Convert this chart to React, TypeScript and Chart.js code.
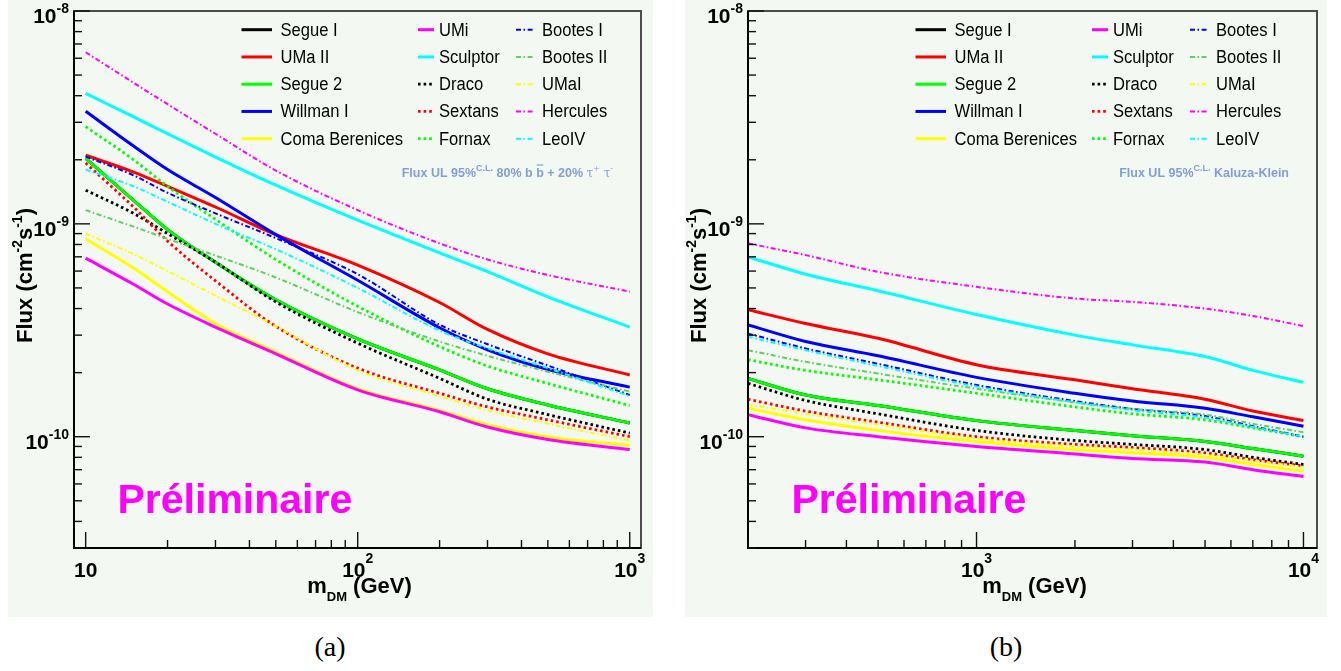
import React, { useEffect, useRef } from "react";
import { Chart, registerables } from "chart.js";

Chart.register(...registerables);

const FONT = "'Liberation Sans', Arial, Helvetica, sans-serif";
const BG = "#f4f8f3";

// ---------------- series (legend order, column-major) ----------------
const seriesNames = [
  "Segue I", "UMa II", "Segue 2", "Willman I", "Coma Berenices",
  "UMi", "Sculptor", "Draco", "Sextans", "Fornax",
  "Bootes I", "Bootes II", "UMaI", "Hercules", "LeoIV",
];
const seriesColors = [
  "#000000", "#ff0000", "#00ff00", "#0000ff", "#ffff00",
  "#ff00ff", "#00ffff", "#000000", "#ff0000", "#00ff00",
  "#0000ff", "#5fcf5f", "#ffff00", "#ff00ff", "#00ffff",
];
const seriesStyles = [
  "solid", "solid", "solid", "solid", "solid",
  "solid", "solid", "dot", "dot", "dot",
  "dashdot", "dashdot", "dashdot", "dashdot", "dashdot",
];

// ---------------- panel (a): 80% b bbar + 20% tau tau ----------------
const massA = [10, 15, 20, 30, 50, 100, 200, 300, 500, 1000];
const aSegueI = [2.03e-9, 1.29e-9, 9.4e-10, 6.6e-10, 4.4e-10, 2.88e-10, 2.06e-10, 1.68e-10, 1.41e-10, 1.16e-10];
const aUMaII = [2.1e-9, 1.75e-9, 1.5e-9, 1.2e-9, 8.9e-10, 6.4e-10, 4.27e-10, 3.19e-10, 2.45e-10, 1.95e-10];
const aSegue2 = [2.03e-9, 1.29e-9, 9.4e-10, 6.6e-10, 4.4e-10, 2.88e-10, 2.06e-10, 1.68e-10, 1.41e-10, 1.16e-10];
const aWillmanI = [3.38e-9, 2.32e-9, 1.8e-9, 1.33e-9, 8.9e-10, 5.43e-10, 3.25e-10, 2.56e-10, 2.07e-10, 1.71e-10];
const aComaBerenices = [8.5e-10, 6.2e-10, 4.8e-10, 3.4e-10, 2.5e-10, 1.68e-10, 1.33e-10, 1.14e-10, 1.0e-10, 9.1e-11];
const aUMi = [6.9e-10, 5.2e-10, 4.2e-10, 3.27e-10, 2.45e-10, 1.66e-10, 1.31e-10, 1.11e-10, 9.7e-11, 8.7e-11];
const aSculptor = [4.1e-9, 3.18e-9, 2.65e-9, 2.06e-9, 1.52e-9, 1.04e-9, 7.3e-10, 5.96e-10, 4.54e-10, 3.27e-10];
const aDraco = [1.44e-9, 1.12e-9, 9.0e-10, 6.6e-10, 4.3e-10, 2.75e-10, 1.88e-10, 1.5e-10, 1.27e-10, 1.04e-10];
const aSextans = [1.93e-9, 1.2e-9, 8.3e-10, 5.4e-10, 3.3e-10, 2.1e-10, 1.6e-10, 1.38e-10, 1.2e-10, 1.0e-10];
const aFornax = [2.86e-9, 2.0e-9, 1.5e-9, 1.05e-9, 6.8e-10, 4.1e-10, 2.65e-10, 2.15e-10, 1.78e-10, 1.4e-10];
const aBootesI = [2.07e-9, 1.69e-9, 1.4e-9, 1.12e-9, 8.57e-10, 5.8e-10, 3.36e-10, 2.72e-10, 2.16e-10, 1.57e-10];
const aBootesII = [1.16e-9, 9.7e-10, 8.5e-10, 7.1e-10, 5.6e-10, 3.85e-10, 2.8e-10, 2.4e-10, 2.02e-10, 1.63e-10];
const aUMaI = [9.0e-10, 7.2e-10, 6.0e-10, 4.6e-10, 3.3e-10, 2.05e-10, 1.55e-10, 1.33e-10, 1.15e-10, 9.6e-11];
const aHercules = [6.4e-9, 4.6e-9, 3.65e-9, 2.65e-9, 1.78e-9, 1.16e-9, 8.1e-10, 6.8e-10, 5.75e-10, 4.8e-10];
const aLeoIV = [1.8e-9, 1.5e-9, 1.27e-9, 1.0e-9, 7.6e-10, 5.0e-10, 3.15e-10, 2.6e-10, 2.1e-10, 1.55e-10];

// ---------------- panel (b): Kaluza-Klein ----------------
const massB = [200, 300, 500, 1000, 2000, 3000, 5000, 7000, 10000];
const bSegueI = [1.88e-10, 1.57e-10, 1.4e-10, 1.19e-10, 1.07e-10, 1.01e-10, 9.5e-11, 8.8e-11, 8.1e-11];
const bUMaII = [3.95e-10, 3.4e-10, 2.9e-10, 2.18e-10, 1.85e-10, 1.68e-10, 1.5e-10, 1.32e-10, 1.19e-10];
const bSegue2 = [1.88e-10, 1.57e-10, 1.4e-10, 1.19e-10, 1.07e-10, 1.01e-10, 9.5e-11, 8.8e-11, 8.1e-11];
const bWillmanI = [3.35e-10, 2.8e-10, 2.4e-10, 1.9e-10, 1.6e-10, 1.47e-10, 1.36e-10, 1.24e-10, 1.12e-10];
const bComaBerenices = [1.36e-10, 1.2e-10, 1.07e-10, 9.5e-11, 8.7e-11, 8.4e-11, 8.0e-11, 7.4e-11, 6.9e-11];
const bUMi = [1.27e-10, 1.1e-10, 1.0e-10, 9.0e-11, 8.3e-11, 7.9e-11, 7.6e-11, 7.0e-11, 6.5e-11];
const bSculptor = [7.0e-10, 5.8e-10, 4.85e-10, 3.75e-10, 3.0e-10, 2.7e-10, 2.38e-10, 2.05e-10, 1.8e-10];
const bDraco = [1.78e-10, 1.48e-10, 1.28e-10, 1.07e-10, 9.6e-11, 9.2e-11, 8.7e-11, 8.0e-11, 7.4e-11];
const bSextans = [1.5e-10, 1.32e-10, 1.17e-10, 1.0e-10, 9.2e-11, 8.9e-11, 8.4e-11, 7.8e-11, 7.3e-11];
const bFornax = [2.3e-10, 2.05e-10, 1.85e-10, 1.6e-10, 1.38e-10, 1.28e-10, 1.2e-10, 1.1e-10, 1.0e-10];
const bBootesI = [3.05e-10, 2.6e-10, 2.2e-10, 1.75e-10, 1.47e-10, 1.35e-10, 1.25e-10, 1.12e-10, 1.0e-10];
const bBootesII = [2.55e-10, 2.25e-10, 1.98e-10, 1.68e-10, 1.45e-10, 1.35e-10, 1.27e-10, 1.15e-10, 1.05e-10];
const bUMaI = [1.42e-10, 1.28e-10, 1.14e-10, 9.8e-11, 9.0e-11, 8.7e-11, 8.2e-11, 7.7e-11, 7.2e-11];
const bHercules = [8.1e-10, 7.13e-10, 5.95e-10, 5.06e-10, 4.46e-10, 4.3e-10, 4.0e-10, 3.69e-10, 3.31e-10];
const bLeoIV = [2.95e-10, 2.55e-10, 2.15e-10, 1.72e-10, 1.45e-10, 1.33e-10, 1.23e-10, 1.11e-10, 1.0e-10];

// ---------------- axes / ticks ----------------
const yMin = 3e-11;
const yMax = 1e-8;
const yTickValues = [1e-8, 1e-9, 1e-10];
const yTickSups = ["-8", "-9", "-10"];
const xRangeA = [9.06, 1100];
const xTickValuesA = [10, 100, 1000];
const xTickSupsA = ["", "2", "3"];
const xRangeB = [200, 11000];
const xTickValuesB = [1000, 10000];
const xTickSupsB = ["3", "4"];

const valuesA = [aSegueI, aUMaII, aSegue2, aWillmanI, aComaBerenices, aUMi, aSculptor, aDraco, aSextans, aFornax, aBootesI, aBootesII, aUMaI, aHercules, aLeoIV];
const valuesB = [bSegueI, bUMaII, bSegue2, bWillmanI, bComaBerenices, bUMi, bSculptor, bDraco, bSextans, bFornax, bBootesI, bBootesII, bUMaI, bHercules, bLeoIV];

type Part = { t: string; f: string; dy?: number; over?: boolean };

function partsWidth(ctx: CanvasRenderingContext2D, parts: Part[]) {
  let w = 0;
  for (const p of parts) {
    ctx.font = p.f;
    w += ctx.measureText(p.t).width;
  }
  return w;
}

function drawParts(ctx: CanvasRenderingContext2D, parts: Part[], x: number, y: number) {
  let cx = x;
  for (const p of parts) {
    ctx.font = p.f;
    ctx.fillText(p.t, cx, y + (p.dy || 0));
    const w = ctx.measureText(p.t).width;
    if (p.over) {
      ctx.save();
      ctx.strokeStyle = ctx.fillStyle as string;
      ctx.lineWidth = 1.2;
      ctx.beginPath();
      ctx.moveTo(cx + 0.5, y - 11.5);
      ctx.lineTo(cx + w - 0.5, y - 11.5);
      ctx.stroke();
      ctx.restore();
    }
    cx += w;
  }
}

function dashFor(style: string) {
  if (style === "dot") return [2.6, 3];
  if (style === "dashdot") return [5, 2.5, 1.6, 2.5];
  return [];
}
function widthFor(style: string) {
  if (style === "dot") return 2.8;
  if (style === "dashdot") return 2;
  return 3;
}

function makeDatasets(mass: number[], values: number[][]) {
  return values.map((vals, i) => ({
    label: seriesNames[i],
    data: mass.map((m, j) => ({ x: m, y: vals[j] })),
    borderColor: seriesColors[i],
    backgroundColor: seriesColors[i],
    borderWidth: widthFor(seriesStyles[i]),
    borderDash: dashFor(seriesStyles[i]),
    pointRadius: 0,
    fill: false,
    cubicInterpolationMode: "monotone",
    order: values.length - i,
  }));
}

function rootPlugin(spec: any) {
  return {
    id: "rootFrame",
    afterDraw(chart: any) {
      const ctx: CanvasRenderingContext2D = chart.ctx;
      const ca = chart.chartArea;
      const xs = chart.scales.x;
      const ys = chart.scales.y;
      ctx.save();
      // frame
      ctx.strokeStyle = "#4d4d4d";
      ctx.lineWidth = 2;
      ctx.strokeRect(ca.left, ca.top, ca.right - ca.left, ca.bottom - ca.top);
      ctx.strokeStyle = "#000";
      ctx.lineWidth = 2;
      ctx.beginPath();
      ctx.moveTo(ca.left, ca.top);
      ctx.lineTo(ca.left, ca.bottom);
      ctx.lineTo(ca.right, ca.bottom);
      ctx.stroke();

      // y ticks
      ctx.lineWidth = 1.4;
      ctx.strokeStyle = "#111";
      for (let e = -11; e <= -8; e++) {
        for (let k = 1; k <= 9; k++) {
          const v = k * Math.pow(10, e);
          if (v < yMin * 0.999 || v > yMax * 1.001) continue;
          const py = ys.getPixelForValue(v);
          const len = k === 1 ? 16 : 8;
          ctx.beginPath();
          ctx.moveTo(ca.left, py);
          ctx.lineTo(ca.left + len, py);
          ctx.stroke();
        }
      }
      // x ticks
      const [xmin, xmax] = spec.xRange;
      for (let e = 0; e <= 4; e++) {
        for (let k = 1; k <= 9; k++) {
          const v = k * Math.pow(10, e);
          if (v < xmin * 0.999 || v > xmax * 1.001) continue;
          const px = xs.getPixelForValue(v);
          const len = k === 1 ? 16 : 8;
          ctx.beginPath();
          ctx.moveTo(px, ca.bottom);
          ctx.lineTo(px, ca.bottom - len);
          ctx.stroke();
        }
      }

      ctx.fillStyle = "#000";
      ctx.textBaseline = "alphabetic";
      ctx.textAlign = "left";
      const big = `bold 21px ${FONT}`;
      const sup = `bold 14px ${FONT}`;
      // y tick labels
      yTickValues.forEach((v, i) => {
        const py = ys.getPixelForValue(v);
        ctx.font = sup;
        const ws = ctx.measureText(yTickSups[i]).width;
        ctx.font = big;
        const wm = ctx.measureText("10").width;
        const right = ca.left - 5;
        ctx.font = sup;
        ctx.fillText(yTickSups[i], right - ws, py + 2);
        ctx.font = big;
        ctx.fillText("10", right - ws - wm, py + 12);
      });
      // x tick labels
      spec.xTicks.forEach((v: number, i: number) => {
        const px = xs.getPixelForValue(v);
        const s = spec.xSups[i];
        ctx.font = big;
        const wm = ctx.measureText("10").width;
        ctx.font = sup;
        const ws = s ? ctx.measureText(s).width : 0;
        const start = px - (wm + ws) / 2;
        ctx.font = big;
        ctx.fillText("10", start, ca.bottom + 29);
        if (s) {
          ctx.font = sup;
          ctx.fillText(s, start + wm, ca.bottom + 15);
        }
      });
      // x title
      const title = `bold 22px ${FONT}`;
      const sub = `bold 13px ${FONT}`;
      const xParts: Part[] = [
        { t: "m", f: title },
        { t: "DM", f: sub, dy: 8 },
        { t: " (GeV)", f: title },
      ];
      const xw = partsWidth(ctx, xParts);
      drawParts(ctx, xParts, (ca.left + ca.right) / 2 - xw / 2 + 2, ca.bottom + 45);
      // y title
      const yParts: Part[] = [
        { t: "Flux (cm", f: title },
        { t: "-2", f: sup, dy: -10 },
        { t: "s", f: title },
        { t: "-1", f: sup, dy: -10 },
        { t: ")", f: title },
      ];
      const yw = partsWidth(ctx, yParts);
      ctx.save();
      ctx.translate(ca.left - 42, (ca.top + ca.bottom) / 2 - 4);
      ctx.rotate(-Math.PI / 2);
      drawParts(ctx, yParts, -yw / 2, 0);
      ctx.restore();

      // legend
      const cols = [
        { l0: 167.5, l1: 198, tx: 206.5 },
        { l0: 344, l1: 360, tx: 365 },
        { l0: 442, l1: 461, tx: 468 },
      ];
      ctx.textBaseline = "middle";
      chart.data.datasets.forEach((ds: any, i: number) => {
        const c = cols[Math.floor(i / 5)];
        const y = ca.top + 18.7 + (i % 5) * 27.25;
        ctx.save();
        ctx.strokeStyle = ds.borderColor;
        ctx.lineWidth = ds.borderWidth;
        ctx.setLineDash(ds.borderDash || []);
        ctx.beginPath();
        ctx.moveTo(ca.left + c.l0, y);
        ctx.lineTo(ca.left + c.l1, y);
        ctx.stroke();
        ctx.restore();
        ctx.save();
        ctx.fillStyle = "#000";
        ctx.font = `18px ${FONT}`;
        ctx.translate(ca.left + c.tx, y + 1);
        ctx.scale(0.92, 1);
        ctx.fillText(ds.label, 0, 0);
        ctx.restore();
      });

      // annotation
      ctx.textBaseline = "alphabetic";
      ctx.fillStyle = "#819ed6";
      const aw = partsWidth(ctx, spec.note);
      drawParts(ctx, spec.note, ca.right - 28 - aw, ca.top + 165.5);

      // watermark
      ctx.fillStyle = "#ff00ff";
      ctx.font = `bold 41px ${FONT}`;
      ctx.fillText("Préliminaire", ca.left + 43.5, ca.bottom - 35);
      ctx.restore();
    },
  };
}

const noteBold = `bold 12.5px ${FONT}`;
const noteSup = `bold 9px ${FONT}`;
const noteTau = `12px 'DejaVu Serif', serif`;
const noteTauSup = `8px 'DejaVu Serif', serif`;
const noteA: Part[] = [
  { t: "Flux UL 95%", f: noteBold },
  { t: "C.L.", f: noteSup, dy: -6 },
  { t: " 80% b ", f: noteBold },
  { t: "b", f: noteBold, over: true },
  { t: " + 20% ", f: noteBold },
  { t: "τ", f: noteTau },
  { t: "+", f: noteTauSup, dy: -6 },
  { t: " τ", f: noteTau },
  { t: "-", f: noteTauSup, dy: -6 },
];
const noteB: Part[] = [
  { t: "Flux UL 95%", f: noteBold },
  { t: "C.L.", f: noteSup, dy: -6 },
  { t: " Kaluza-Klein", f: noteBold },
];

function Panel(props: any) {
  const ref = useRef<HTMLCanvasElement | null>(null);
  const { mass, values, xRange, xTicks, xSups, note, padding, width, height } = props;
  useEffect(() => {
    if (!ref.current) return;
    const chart = new Chart(ref.current, {
      type: "line",
      data: { datasets: makeDatasets(mass, values) as any },
      options: {
        responsive: false,
        animation: false,
        events: [],
        layout: { padding },
        plugins: {
          legend: { display: false },
          tooltip: { enabled: false },
          title: { display: false },
        },
        scales: {
          x: { type: "logarithmic", display: false, min: xRange[0], max: xRange[1], bounds: "data" },
          y: { type: "logarithmic", display: false, min: yMin, max: yMax, bounds: "data" },
        },
      } as any,
      plugins: [rootPlugin({ xRange, xTicks, xSups, note })],
    });
    return () => chart.destroy();
  }, []);
  return <canvas ref={ref} width={width} height={height} style={{ display: "block" }} />;
}

const captionStyle: React.CSSProperties = {
  position: "absolute",
  top: 629,
  width: 100,
  textAlign: "center",
  fontFamily: "'Liberation Serif', 'DejaVu Serif', serif",
  fontSize: 28,
  lineHeight: "36px",
  color: "#000",
};

export default function App() {
  return (
    <div style={{ position: "absolute", left: 0, top: 0, width: 1341, height: 671, background: "#fff", overflow: "hidden" }}>
      <div style={{ position: "absolute", left: 8, top: 0, width: 645, height: 617, background: BG }}>
        <Panel
          mass={massA}
          values={valuesA}
          xRange={xRangeA}
          xTicks={xTickValuesA}
          xSups={xTickSupsA}
          note={noteA}
          padding={{ left: 66, top: 11, right: 12, bottom: 69 }}
          width={645}
          height={617}
        />
      </div>
      <div style={{ position: "absolute", left: 685, top: 0, width: 642, height: 617, background: BG }}>
        <Panel
          mass={massB}
          values={valuesB}
          xRange={xRangeB}
          xTicks={xTickValuesB}
          xSups={xTickSupsB}
          note={noteB}
          padding={{ left: 63, top: 11, right: 10, bottom: 69 }}
          width={642}
          height={617}
        />
      </div>
      <div style={{ ...captionStyle, left: 280 }}>(a)</div>
      <div style={{ ...captionStyle, left: 956 }}>(b)</div>
    </div>
  );
}
